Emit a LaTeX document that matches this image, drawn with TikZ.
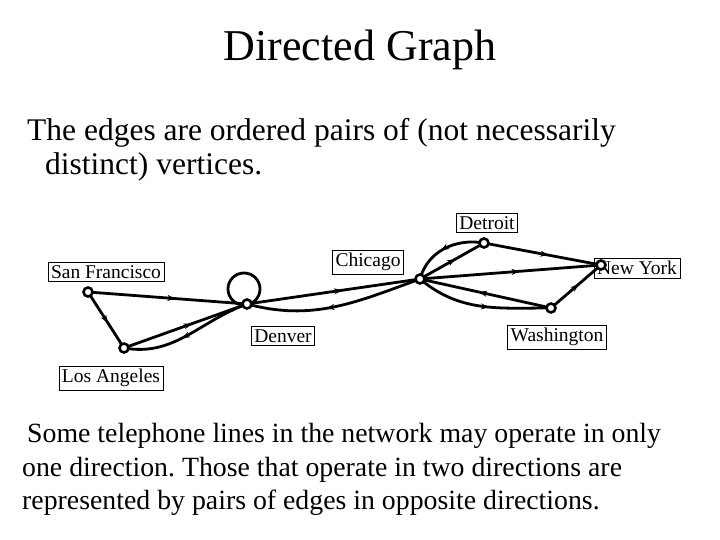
\documentclass[tikz,border=0pt]{standalone}
\usepackage{fontspec}
\setmainfont{Liberation Serif}
\usetikzlibrary{decorations.markings,arrows.meta}
\begin{document}
\frenchspacing
\begin{tikzpicture}[x=1pt,y=-1pt,
  vert/.style={circle,draw,line width=2.6pt,fill=white,inner sep=0pt,minimum size=9pt},
  lab/.style={draw,fill=white,font=\fontsize{19.5}{22}\selectfont,inner sep=3pt},
  edge/.style={line width=2.8pt,postaction={decorate},decoration={markings,mark=at position 0.55 with {\arrow{Stealth[length=8pt,width=6pt]}}}},
  txt/.style={anchor=west,inner sep=0pt}]
\useasboundingbox (0,0) rectangle (720,540);
\node[font=\fontsize{44}{48}\selectfont] (title) at (360,50) {Directed Graph};
\node[txt,font=\fontsize{31.5}{36}\selectfont] (t1) at (27,133) {The edges are ordered pairs of (not necessarily};
\node[txt,font=\fontsize{31.5}{36}\selectfont] (t2) at (45,167) {distinct) vertices.};
\node[txt,font=\fontsize{27.8}{32}\selectfont] (b1) at (27,436) {Some telephone lines in the network may operate in only};
\node[txt,font=\fontsize{27.8}{32}\selectfont] (b2) at (22,470) {one direction. Those that operate in two directions are};
\node[txt,font=\fontsize{27.8}{32}\selectfont] (b3) at (22,503) {represented by pairs of edges in opposite directions.};
\coordinate (SF) at (88,292);
\coordinate (LA) at (124,348);
\coordinate (DE) at (247,304);
\coordinate (CH) at (420,279);
\coordinate (DT) at (484,243);
\coordinate (NY) at (601,265);
\coordinate (WA) at (551,308);
\node[lab] (lSF) at (106,272) {San Francisco};
\node[lab] (lCH) at (368,262) {Chicago};
\node[lab] (lDT) at (487,223) {Detroit};
\node[lab] (lNY) at (637,268) {New York};
\node[lab] (lDE) at (283,336) {Denver};
\node[lab] (lWA) at (557,337) {Washington};
\node[lab] (lLA) at (111,378) {Los Angeles};
\draw[edge] (SF) -- (DE);
\draw[edge] (SF) -- (LA);
\draw[edge] (LA) -- (DE);
\draw[edge] (DE) to[out=200,in=-10] (LA);
\draw[line width=2.8pt] (244,289) circle (16);
\draw[edge] (DE) -- (CH);
\draw[edge] (CH) to[out=200,in=-15] (DE);
\draw[edge] (CH) -- (DT);
\draw[edge] (DT) to[out=170,in=75] (CH);
\draw[edge] (DT) -- (NY);
\draw[edge] (CH) -- (NY);
\draw[edge] (WA) -- (CH);
\draw[edge] (CH) to[out=-40,in=180] (WA);
\draw[edge] (WA) -- (NY);
\foreach \v in {SF,LA,DE,CH,DT,NY,WA} \node[vert] (v\v) at (\v) {};
\end{tikzpicture}
\end{document}
